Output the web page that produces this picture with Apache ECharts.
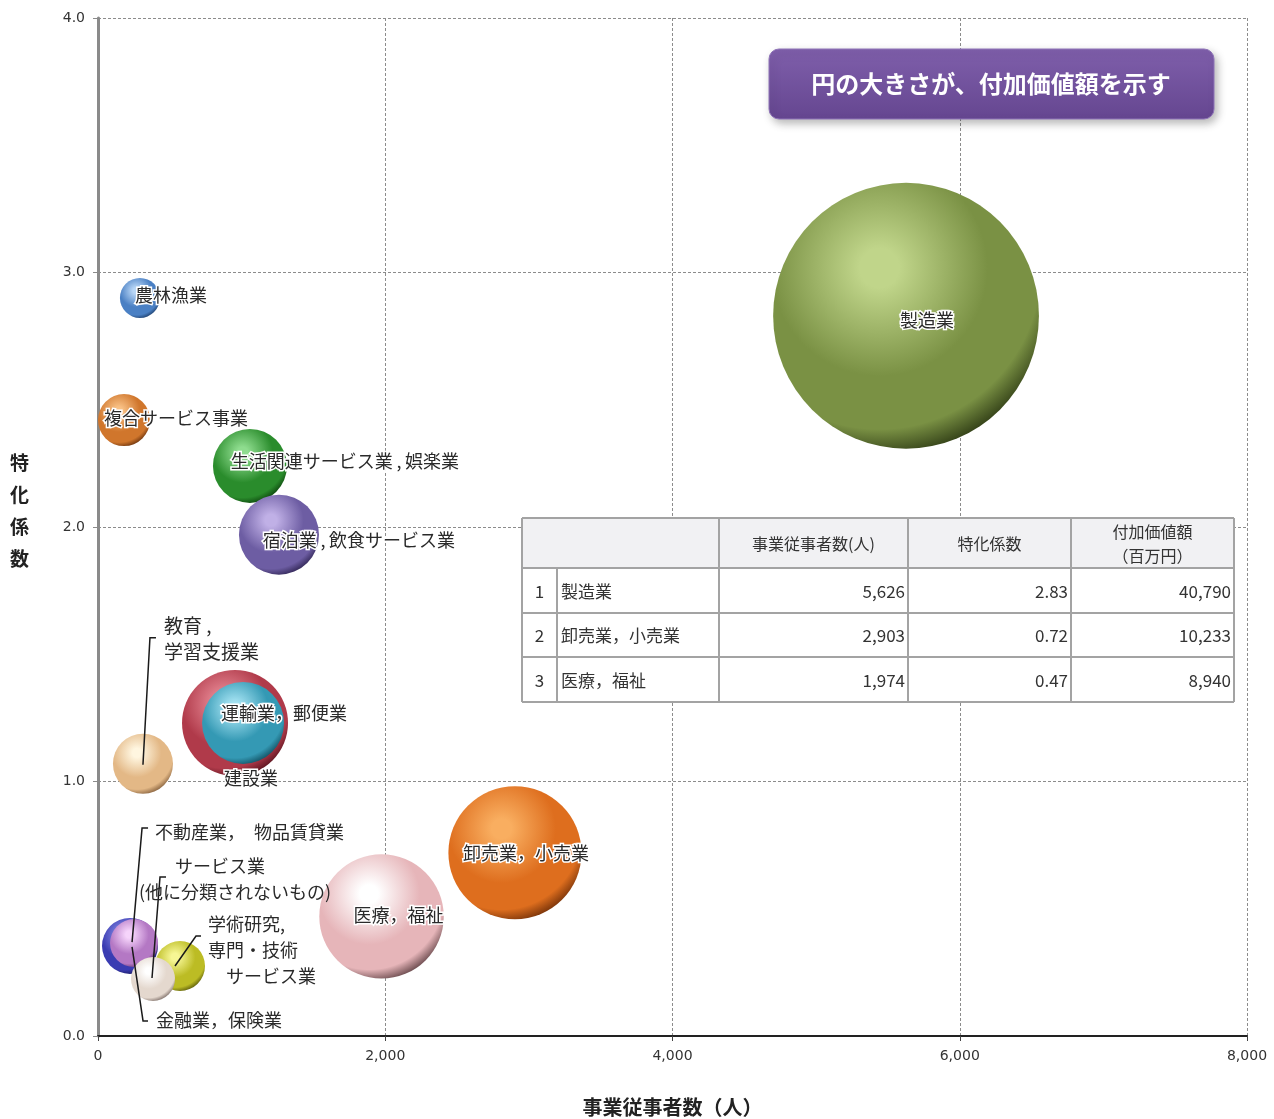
<!DOCTYPE html>
<html>
<head>
<meta charset="utf-8">
<title>産業別 事業従事者数・特化係数・付加価値額</title>
<script src="https://cdn.jsdelivr.net/npm/echarts@6/dist/echarts.min.js"></script>
<style>
  html, body { margin: 0; padding: 0; background: #fff; }
  #chart { width: 1274px; height: 1119px; }
</style>
</head>
<body>
<div id="chart"></div>
<script>
// ---- data ----
const industries = [
  '製造業', '卸売業，小売業', '医療，福祉', '建設業', '運輸業，郵便業',
  '生活関連サービス業，娯楽業', '宿泊業，飲食サービス業', '教育，学習支援業',
  '農林漁業', '複合サービス事業', '金融業，保険業', '不動産業，物品賃貸業',
  '学術研究，専門・技術サービス業', 'サービス業（他に分類されないもの）'
];
const workers    = [5626, 2903, 1974, 954, 1010, 1058, 1260, 313, 292, 181, 223, 251, 571, 383];
const coef       = [2.83, 0.72, 0.47, 1.23, 1.23, 2.24, 1.97, 1.07, 2.90, 2.42, 0.354, 0.365, 0.275, 0.224];
const valueAdded = [40790, 10233, 8940, 6488, 3882, 3162, 3695, 2079, 924, 1561, 1811, 1330, 1443, 1118];

const xTicks = [0, 2000, 4000, 6000, 8000];
const yTicks = [0, 1, 2, 3, 4];
const tableHeaders = ['', '', '事業従事者数(人)', '特化係数', '付加価値額\n（百万円）'];
const noteText = '円の大きさが、付加価値額を示す';

// ---- styling ----
const FONT = '"Noto Sans CJK JP", "Noto Sans", sans-serif';
const sizeScale = 1.316; // bubble diameter per sqrt(付加価値額)

// sphere shading: [highlight, base, shadow]
const shades = {
  '製造業': ['#c0d58a', '#7a9144', '#1f2a0b'],
  '卸売業，小売業': ['#f9ae60', '#de6e1e', '#5e2404'],
  '医療，福祉': ['#ffffff', '#e6b5b9', '#4a2e31'],
  '建設業': ['#ea8c98', '#b03a4a', '#480c16'],
  '運輸業，郵便業': ['#a4e2f2', '#3499b4', '#0b4252'],
  '生活関連サービス業，娯楽業': ['#8edc8e', '#2a8c2c', '#063406'],
  '宿泊業，飲食サービス業': ['#c0b0e6', '#6d5da3', '#241a44'],
  '教育，学習支援業': ['#fff6e0', '#e3b886', '#74502f'],
  '農林漁業': ['#b8d6f6', '#4a80c4', '#16335c'],
  '複合サービス事業': ['#f8c084', '#d0762c', '#582608'],
  '金融業，保険業': ['#9094ec', '#3a3cb2', '#12124c'],
  '不動産業，物品賃貸業': ['#f6d4fb', '#b478c4', '#582a64'],
  '学術研究，専門・技術サービス業': ['#f6f694', '#bcbc24', '#484806'],
  'サービス業（他に分類されないもの）': ['#ffffff', '#e4d8ce', '#665650']
};

// label placement relative to bubble centre
const labelCfg = {
  '製造業': { offset: [21, 4] },
  '卸売業，小売業': { offset: [11, 0] },
  '医療，福祉': { offset: [17, -1] },
  '建設業': { offset: [16, 55] },
  '運輸業，郵便業': { offset: [41, -10] },
  '生活関連サービス業，娯楽業': { offset: [95, -5], text: '生活関連サービス業\u2009,\u2009娯楽業' },
  '宿泊業，飲食サービス業': { offset: [80, 6], text: '宿泊業\u2009,\u2009飲食サービス業' },
  '教育，学習支援業': { offset: [21, -125], align: 'left', text: '教育 ,\n学習支援業', halo: false, size: 19 },
  '農林漁業': { offset: [31, -3] },
  '複合サービス事業': { offset: [52, -2] },
  '金融業，保険業': { offset: [26, 74], align: 'left', halo: false },
  '不動産業，物品賃貸業': { offset: [21, -111], align: 'left', halo: false, text: '不動産業，\u2002物品賃貸業' },
  '学術研究，専門・技術サービス業': { offset: [28, -16], align: 'left', text: '学術研究,\n専門・技術\n　サービス業', halo: false },
  'サービス業（他に分類されないもの）': { offset: [-14, -100], align: 'left', text: '　　サービス業\n(他に分類されないもの)', halo: false }
};

// leader lines (pixel offsets from bubble centre)
const leaders = {
  '教育，学習支援業': [[0, 1], [7, -126], [13, -126]],
  '不動産業，物品賃貸業': [[-2, -1], [8, -115], [14, -115]],
  'サービス業（他に分類されないもの）': [[-1, -1], [7, -102], [13, -102]],
  '学術研究，専門・技術サービス業': [[-5, 0], [16, -30], [21, -30]],
  '金融業，保険業': [[2, 1], [13, 75], [18, 75]]
};

function sphere(name) {
  const c = shades[name];
  return {
    type: 'radial', x: 0.4, y: 0.32, r: 0.74,
    colorStops: [
      { offset: 0, color: c[0] },
      { offset: 0.1, color: c[0] },
      { offset: 0.55, color: c[1] },
      { offset: 0.82, color: c[1] },
      { offset: 1, color: c[2] }
    ]
  };
}

const bubbleData = industries.map((name, i) => ({
  name: name,
  value: [workers[i], coef[i], valueAdded[i]],
  itemStyle: { color: sphere(name), opacity: 1 }
}));

const pointRefs = industries.map((name, i) => [workers[i], coef[i], i]);
const leaderData = pointRefs.filter(d => leaders[industries[d[2]]]);

// table rows: three largest by 付加価値額
const tableRows = industries
  .map((name, i) => ({ name, w: workers[i], c: coef[i], v: valueAdded[i] }))
  .sort((a, b) => b.v - a.v)
  .slice(0, 3);

// ---- table graphic ----
const colX = [522, 557, 719, 908, 1071, 1234];
const rowY = [518, 568, 613, 657, 702];
const tableEls = [];
tableEls.push({ type: 'rect', shape: { x: colX[0], y: rowY[0], width: colX[5] - colX[0], height: rowY[4] - rowY[0] },
  style: { fill: '#ffffff' }, z: 10 });
tableEls.push({ type: 'rect', shape: { x: colX[0], y: rowY[0], width: colX[5] - colX[0], height: rowY[1] - rowY[0] },
  style: { fill: '#f1f1f3' }, z: 10 });
const lineStyle = { stroke: '#a3a3a3', lineWidth: 2 };
rowY.forEach(y => tableEls.push({ type: 'line', shape: { x1: colX[0], y1: y, x2: colX[5], y2: y }, style: lineStyle, z: 11 }));
colX.forEach((x, k) => {
  const y1 = (k === 1) ? rowY[1] : rowY[0];
  tableEls.push({ type: 'line', shape: { x1: x, y1: y1, x2: x, y2: rowY[4] }, style: lineStyle, z: 11 });
});
tableHeaders.forEach((h, k) => {
  if (!h) return;
  tableEls.push({ type: 'text', x: (colX[k] + colX[k + 1]) / 2, y: (rowY[0] + rowY[1]) / 2 + 1,
    style: { text: h, fontFamily: FONT, fontSize: 16, lineHeight: 24, fill: '#333', align: 'center', verticalAlign: 'middle' }, z: 12 });
});
tableRows.forEach((r, k) => {
  const cy = (rowY[k + 1] + rowY[k + 2]) / 2 + 1;
  const txt = (s, x, align) => tableEls.push({ type: 'text', x: x, y: cy,
    style: { text: s, fontFamily: FONT, fontSize: 17, fill: '#333', align: align, verticalAlign: 'middle' }, z: 12 });
  txt(String(k + 1), (colX[0] + colX[1]) / 2, 'center');
  txt(r.name, colX[1] + 4, 'left');
  txt(r.w.toLocaleString('en-US'), colX[3] - 3, 'right');
  txt(r.c.toFixed(2), colX[4] - 3, 'right');
  txt(r.v.toLocaleString('en-US'), colX[5] - 3, 'right');
});

// note box
const noteEls = [
  { type: 'rect', shape: { x: 769, y: 49, width: 445, height: 70, r: 10 },
    style: {
      fill: { type: 'linear', x: 0, y: 0, x2: 0, y2: 1,
        colorStops: [{ offset: 0, color: '#7f5fab' }, { offset: 1, color: '#654690' }] },
      stroke: '#8f74b8', lineWidth: 1,
      shadowBlur: 8, shadowOffsetX: 3, shadowOffsetY: 4, shadowColor: 'rgba(0,0,0,0.28)'
    }, z: 10 },
  { type: 'text', x: 991, y: 84,
    style: { text: noteText, fontFamily: FONT, fontSize: 24, fontWeight: 'bold', fill: '#ffffff',
      align: 'center', verticalAlign: 'middle' }, z: 11 }
];

const chart = echarts.init(document.getElementById('chart'), null, { renderer: 'canvas' });
chart.setOption({
  animation: false,
  backgroundColor: '#ffffff',
  grid: { left: 98, right: 27, top: 18, bottom: 83, containLabel: false, outerBoundsMode: 'none' },
  xAxis: {
    type: 'value', min: xTicks[0], max: xTicks[xTicks.length - 1], interval: xTicks[1] - xTicks[0],
    name: '事業従事者数（人）', nameLocation: 'middle', nameGap: 61,
    nameTextStyle: { fontFamily: FONT, fontSize: 20, fontWeight: 'bold', color: '#222' },
    axisLine: { show: true, lineStyle: { color: '#222', width: 2 } },
    axisTick: { show: true, length: 5, lineStyle: { color: '#444' } },
    axisLabel: { fontFamily: '"DejaVu Sans", sans-serif', fontSize: 14, color: '#333', margin: 13,
      formatter: v => v.toLocaleString('en-US') },
    splitLine: { show: true, lineStyle: { color: '#8c8c8c', type: [3, 2], width: 1 } }
  },
  yAxis: {
    type: 'value', min: yTicks[0], max: yTicks[yTicks.length - 1], interval: yTicks[1] - yTicks[0],
    // trailing blank line lifts the stacked title slightly above the axis midpoint
    name: '特\n化\n係\n数\n ', nameLocation: 'middle', nameGap: 69, nameRotate: 0,
    nameTextStyle: { fontFamily: FONT, fontSize: 19, fontWeight: 'bold', color: '#222', lineHeight: 32 },
    axisLine: { show: true, lineStyle: { color: '#8a8a8a', width: 3 } },
    axisTick: { show: true, length: 5, lineStyle: { color: '#8a8a8a' } },
    axisLabel: { fontFamily: '"DejaVu Sans", sans-serif', fontSize: 14, color: '#333', margin: 13,
      formatter: v => v.toFixed(1) },
    splitLine: { show: true, lineStyle: { color: '#8c8c8c', type: [3, 2], width: 1 } }
  },
  series: [
    {
      type: 'scatter',
      data: bubbleData,
      symbol: 'circle',
      symbolSize: v => sizeScale * Math.sqrt(v[2]),
      emphasis: { disabled: true },
      label: { show: false },
      z: 3
    },
    {
      type: 'custom',
      data: leaderData,
      clip: false,
      silent: true,
      z: 5,
      renderItem: (params, api) => {
        const c = api.coord([api.value(0), api.value(1)]);
        const pts = leaders[industries[api.value(2)]].map(o => [c[0] + o[0], c[1] + o[1]]);
        return { type: 'polyline', shape: { points: pts },
          style: { stroke: '#1a1a1a', lineWidth: 1.5, fill: null } };
      }
    },
    {
      // industry names, anchored to each bubble centre
      type: 'custom',
      data: pointRefs,
      clip: false,
      silent: true,
      z: 6,
      renderItem: (params, api) => {
        const name = industries[api.value(2)];
        const lc = labelCfg[name] || {};
        const c = api.coord([api.value(0), api.value(1)]);
        const off = lc.offset || [0, 0];
        const halo = lc.halo !== false;
        return {
          type: 'text',
          x: c[0] + off[0],
          y: c[1] + off[1],
          style: {
            text: lc.text || name,
            fontFamily: FONT, fontSize: lc.size || 18, lineHeight: 26,
            fill: '#2a2a2a',
            stroke: halo ? '#ffffff' : null,
            lineWidth: halo ? 3 : 0,
            align: lc.align || 'center',
            verticalAlign: 'middle'
          }
        };
      }
    }
  ],
  graphic: tableEls.concat(noteEls)
});
</script>
</body>
</html>
